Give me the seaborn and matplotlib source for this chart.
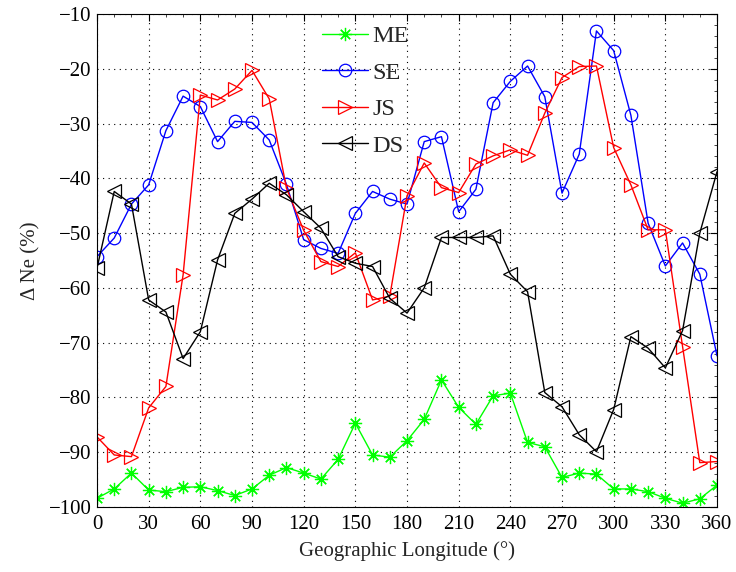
import numpy as np
import pandas as pd
import matplotlib
matplotlib.use("Agg")
import matplotlib.pyplot as plt
import seaborn as sns
from matplotlib.ticker import MultipleLocator

longitude = list(range(0, 361, 10))

me = [-98.4, -96.7, -93.8, -96.9, -97.2, -96.4, -96.3, -97.0, -97.9, -96.7,
      -94.2, -92.8, -93.8, -94.9, -91.3, -84.7, -90.5, -90.9, -87.9, -84.0,
      -76.8, -81.8, -84.9, -79.7, -79.2, -88.2, -89.0, -94.6, -93.8, -94.0,
      -96.7, -96.7, -97.2, -98.4, -99.3, -98.5, -96.0]

se = [-54.3, -50.9, -44.7, -41.2, -31.3, -25.0, -26.9, -33.3, -29.6, -29.8,
      -33.0, -41.1, -51.2, -52.8, -53.7, -46.4, -42.4, -43.8, -44.7, -33.3,
      -32.4, -46.1, -42.0, -26.2, -22.3, -19.5, -25.1, -42.7, -35.6, -13.1,
      -16.7, -28.5, -48.2, -56.0, -51.8, -57.5, -72.4]

js = [-87.2, -90.5, -90.8, -81.9, -78.0, -57.6, -24.8, -25.7, -23.7, -20.3,
      -25.5, -41.8, -49.5, -55.2, -56.1, -53.6, -62.2, -61.5, -43.2, -37.2,
      -41.7, -42.6, -37.4, -35.9, -34.8, -35.8, -28.1, -21.6, -19.6, -19.5,
      -34.4, -41.2, -49.4, -49.4, -70.7, -91.9, -91.7]

ds = [-56.4, -42.4, -44.7, -62.2, -64.4, -72.9, -68.0, -54.9, -46.4, -43.8,
      -40.9, -43.0, -46.1, -49.1, -54.3, -55.5, -56.1, -61.9, -64.6, -60.0,
      -50.8, -50.8, -50.8, -50.5, -57.5, -60.7, -79.1, -81.7, -86.8, -89.9,
      -82.2, -68.9, -71.0, -74.6, -67.8, -50.0, -38.8]

series_names = ["ME", "SE", "JS", "DS"]
xticks = list(range(0, 361, 30))
yticks = list(range(-100, -9, 10))

df = pd.DataFrame({
    "lon": longitude * 4,
    "val": me + se + js + ds,
    "series": sum([[n] * len(longitude) for n in series_names], []),
})

sns.set_theme(style="white")
plt.rcParams["font.family"] = ["Liberation Serif", "DejaVu Serif"]
plt.rcParams["mathtext.fontset"] = "stix"

fig = plt.figure(figsize=(7.36, 5.72), dpi=100)
ax = fig.add_axes([0.1318, 0.1136, 0.8424, 0.862])

colors = {"ME": "#00ff00", "SE": "#0000ff", "JS": "#ff0000", "DS": "#000000"}
markers = {"ME": (8, 2, 0), "SE": "o", "JS": ">", "DS": "<"}
msizes = {"ME": 9.5, "SE": 9, "JS": 10, "DS": 10}

for name in series_names:
    sub = df[df["series"] == name]
    sns.lineplot(data=sub, x="lon", y="val", ax=ax, color=colors[name],
                 marker=markers[name], markersize=msizes[name],
                 markerfacecolor="none", markeredgecolor=colors[name],
                 markeredgewidth=0.9, linewidth=1.0, label=name,
                 estimator=None, sort=False)

ax.set_xlim(0, 360)
ax.set_ylim(-100, -10)
ax.set_xticks(xticks)
ax.set_yticks(yticks)
ax.set_xticklabels([str(t) for t in xticks])
ax.set_yticklabels([f"\u2212{abs(t)}" for t in yticks])
ax.xaxis.set_minor_locator(MultipleLocator(10))
ax.yaxis.set_minor_locator(MultipleLocator(2))
ax.tick_params(axis="both", which="major", direction="in", length=5, width=0.8,
               top=True, right=True, labelsize=15, colors="black")
ax.tick_params(axis="x", which="major", pad=6)
ax.tick_params(axis="y", which="major", pad=4)
ax.tick_params(axis="both", which="minor", direction="in", length=2.5, width=0.6,
               top=True, right=True)
ax.grid(True, which="major", linestyle=(0, (1, 4)), color="black", linewidth=0.8)
for s in ax.spines.values():
    s.set_color("black")
    s.set_linewidth(0.8)

ax.set_xlabel("Geographic Longitude (°)", fontsize=15, labelpad=5)
ax.set_ylabel("\u0394 Ne (%)", fontsize=15, labelpad=6)

leg = ax.legend(loc="upper left", bbox_to_anchor=(0.335, 1.012), frameon=False,
                fontsize=17.5, handlelength=1.9, handletextpad=0.2,
                labelspacing=0.6, borderaxespad=0.3)

fig.savefig("out.png", dpi=100)
